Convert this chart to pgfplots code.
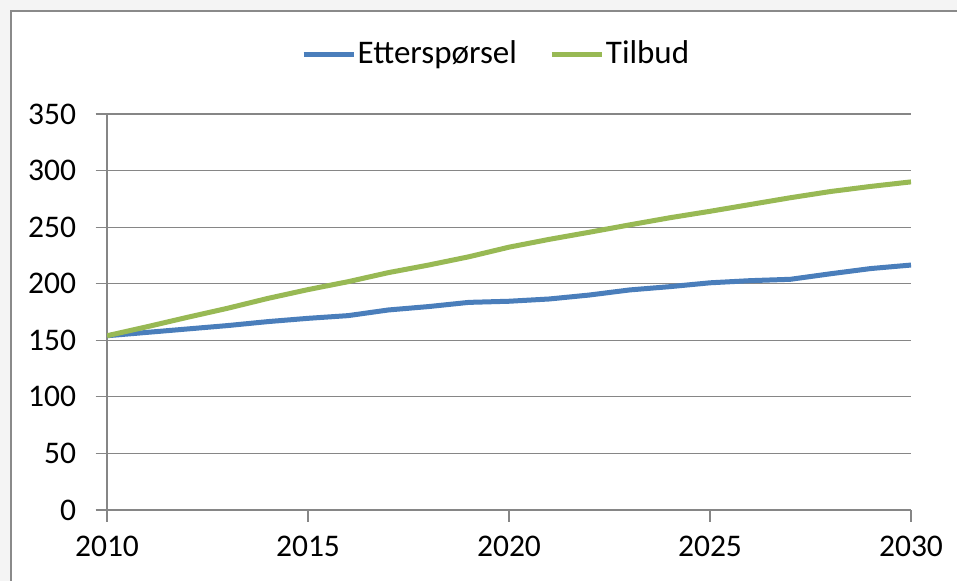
\documentclass[border=0pt]{standalone}
\usepackage{pgfplots}
\pgfplotsset{compat=1.18}
\usepackage{fontspec}
\setmainfont{Carlito}
\definecolor{eblue}{HTML}{4A7EBB}
\definecolor{tgreen}{HTML}{98B954}
\definecolor{gridc}{HTML}{868686}
\definecolor{outbg}{HTML}{F4F4F4}
\definecolor{framec}{HTML}{8A8A8A}
\begin{document}
\fontsize{31bp}{37bp}\selectfont
\begin{tikzpicture}
\fill[outbg] (0,0) rectangle (957bp,581bp);
\fill[white] (11bp,0) rectangle (957bp,570bp);
\draw[framec, line width=2.5bp] (11bp,-2bp) -- (11bp,570bp) -- (960bp,570bp);
\begin{axis}[
  at={(107bp,71bp)}, anchor=south west,
  scale only axis, width=804bp, height=396bp,
  xmin=2010, xmax=2030, ymin=0, ymax=350,
  xtick={2010,2015,...,2030}, ytick={0,50,...,350},
  ymajorgrids, grid style={gridc, line width=1.2bp},
  axis x line*=bottom, axis y line*=left,
  axis line style={gridc, line width=1.2bp},
  tick style={gridc, line width=1.2bp},
  tick align=outside, major tick length=11.5bp,
  x tick label style={/pgf/number format/1000 sep={}, yshift=-4bp},
  y tick label style={xshift=-9bp},
  /pgf/number format/assume math mode=true,
  tick label style={font=\fontsize{31.5bp}{37bp}\selectfont},
  legend columns=2,
  legend style={at={(0.4838,1.1515)}, anchor=center, draw=none, fill=none,
    font=\fontsize{33bp}{39bp}\selectfont,
    nodes={inner sep=1.5bp},
    /tikz/every even column/.append style={column sep=31bp}},
  legend image code/.code={\draw[#1] (0bp,0bp) -- (50bp,0bp);},
]
\addplot[eblue, line width=5bp] coordinates {
(2010,154) (2011,157) (2012,160) (2013,163) (2014,166.5) (2015,169.4)
(2016,171.8) (2017,176.8) (2018,179.8) (2019,183.5) (2020,184.5)
(2021,186.5) (2022,190) (2023,194.5) (2024,197.4) (2025,200.8)
(2026,202.7) (2027,203.9) (2028,208.8) (2029,213.4) (2030,216.5)};
\addlegendentry{Etterspørsel}
\addplot[tgreen, line width=5bp] coordinates {
(2010,154) (2011,162) (2012,170.3) (2013,178.3) (2014,187) (2015,194.8)
(2016,201.8) (2017,209.8) (2018,216.5) (2019,223.8) (2020,232.3)
(2021,239.2) (2022,245.5) (2023,252) (2024,258.3) (2025,264)
(2026,270) (2027,276) (2028,281.5) (2029,286) (2030,290)};
\addlegendentry{Tilbud}
\end{axis}
\pgfresetboundingbox
\path[use as bounding box] (0,0) rectangle (957bp,581bp);
\end{tikzpicture}
\end{document}
